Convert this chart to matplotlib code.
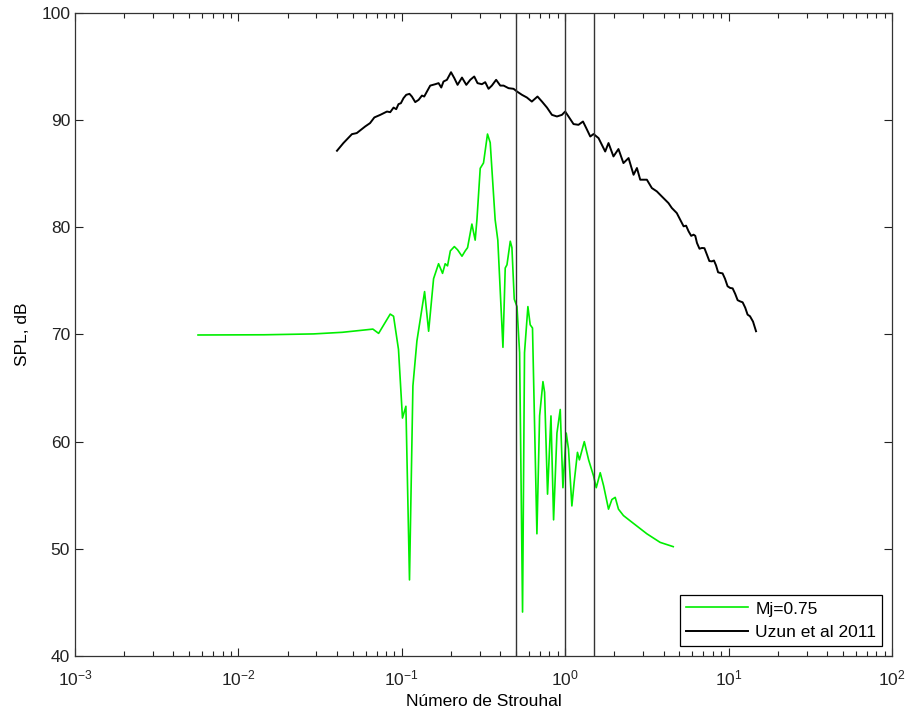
import numpy as np
import matplotlib.pyplot as plt
from matplotlib.ticker import LogLocator, FixedLocator, NullLocator

plt.rcParams['font.family'] = ['Liberation Sans', 'DejaVu Sans']
plt.rcParams['mathtext.default'] = 'regular'

## Mj=0.75 (simulation)
st_mj = [0.00566, 0.0144, 0.0288, 0.0432, 0.0577, 0.0665, 0.0721, 0.0849, 0.0890, 0.0954,
         0.1009, 0.1059, 0.1114, 0.1169, 0.1237, 0.1378, 0.1459, 0.1564, 0.1678, 0.1775,
         0.1842, 0.1904, 0.1981, 0.2096, 0.2193, 0.2334, 0.2444, 0.2525, 0.2684, 0.2811,
         0.2881, 0.3018, 0.3161, 0.3344, 0.3474, 0.3725, 0.3867, 0.4157, 0.4293, 0.4400,
         0.4610, 0.4718, 0.4875, 0.5067, 0.5257, 0.5480, 0.5634, 0.5909, 0.6104, 0.6305,
         0.6709, 0.6968, 0.7306, 0.7476, 0.7793, 0.8178, 0.8486, 0.8897, 0.9320, 0.9679,
         1.014, 1.047, 1.098, 1.134, 1.188, 1.221, 1.308, 1.390, 1.490, 1.548,
         1.637, 1.716, 1.840, 1.930, 2.022, 2.117, 2.271, 2.501, 3.159, 3.808, 4.58]
spl_mj = [69.95, 69.97, 70.05, 70.2, 70.4, 70.5, 70.1, 71.9, 71.7, 68.6,
          62.2, 63.3, 47.1, 65.2, 69.4, 74.0, 70.3, 75.2, 76.6, 75.7,
          76.6, 76.4, 77.8, 78.2, 77.9, 77.3, 77.8, 78.1, 80.3, 78.8,
          80.7, 85.5, 86.0, 88.7, 87.9, 80.7, 78.8, 68.8, 76.2, 76.5,
          78.7, 78.1, 73.3, 72.6, 68.3, 44.1, 68.3, 72.6, 70.9, 70.6,
          51.4, 62.4, 65.6, 64.6, 55.1, 62.4, 52.7, 60.8, 63.0, 55.7,
          60.8, 59.3, 54.0, 56.2, 59.0, 58.3, 60.0, 58.3, 56.8, 55.7,
          57.1, 55.9, 53.7, 54.6, 54.8, 53.7, 53.1, 52.6, 51.4, 50.6, 50.2]

## Uzun et al 2011
st_uzun = [0.0401, 0.0439, 0.0495, 0.0530, 0.0597, 0.0639, 0.0679, 0.0738, 0.0811, 0.0849,
           0.0890, 0.0924, 0.0954, 0.0987, 0.1024, 0.1064, 0.1114, 0.1152, 0.1208, 0.1267,
           0.1328, 0.1371, 0.1425, 0.1492, 0.1602, 0.1678, 0.1743, 0.1799, 0.1888, 0.2000,
           0.2096, 0.2193, 0.2334, 0.2481, 0.2623, 0.2774, 0.2905, 0.3090, 0.3238, 0.3393,
           0.3555, 0.3777, 0.4004, 0.4196, 0.4498, 0.4828, 0.5067, 0.5433, 0.5825, 0.6245,
           0.6764, 0.7205, 0.7732, 0.8291, 0.8897, 0.9544, 0.9992, 1.047, 1.124, 1.205,
           1.284, 1.345, 1.423, 1.490, 1.599, 1.756, 1.840, 1.973, 2.117, 2.271,
           2.441, 2.619, 2.746, 2.877, 3.159, 3.389, 3.635, 3.899, 4.282, 4.49,
           4.814, 5.302, 5.49, 5.688, 5.90, 6.102, 6.25, 6.399, 6.63, 6.865,
           7.11, 7.363, 7.62, 7.899, 8.13, 8.37, 8.62, 8.876, 9.18, 9.50,
           9.85, 10.21, 10.58, 10.96, 11.35, 11.74, 12.18, 12.63, 13.06, 13.51,
           14.1, 14.71]
spl_uzun = [87.14, 87.86, 88.69, 88.79, 89.41, 89.72, 90.25, 90.49, 90.80, 90.74,
            91.17, 91.02, 91.49, 91.58, 92.05, 92.36, 92.45, 92.20, 91.68, 91.89,
            92.29, 92.20, 92.67, 93.22, 93.35, 93.45, 93.04, 93.60, 93.76, 94.47,
            93.91, 93.29, 93.97, 93.29, 93.76, 94.07, 93.45, 93.35, 93.54, 92.92,
            93.22, 93.76, 93.22, 93.22, 92.98, 92.92, 92.67, 92.36, 92.11, 91.73,
            92.20, 91.73, 91.17, 90.49, 90.34, 90.49, 90.80, 90.34, 89.63, 89.56,
            89.87, 89.25, 88.47, 88.70, 88.32, 87.07, 87.86, 86.61, 87.30, 85.99,
            86.46, 84.90, 85.53, 84.44, 84.44, 83.66, 83.35, 82.88, 82.26, 81.80,
            81.33, 80.09, 80.15, 79.62, 79.2, 79.31, 79.2, 78.54, 78.0, 78.07,
            78.05, 77.45, 76.85, 76.82, 76.9, 76.45, 75.8, 75.74, 75.7, 75.2,
            74.5, 74.34, 74.3, 73.8, 73.2, 73.09, 73.0, 72.5, 71.85, 71.70,
            71.2, 70.30]

## vertical reference lines
st_lines = [0.5, 1.0, 1.5]

fig = plt.figure(figsize=(9.06, 7.11), dpi=100)
ax = fig.add_axes([0.0828, 0.0774, 0.9018, 0.9044])

ax.semilogx(st_mj, spl_mj, color='#00ee00', linewidth=1.2, label='Mj=0.75')
ax.semilogx(st_uzun, spl_uzun, color='black', linewidth=1.4, label='Uzun et al 2011')
for s in st_lines:
    ax.axvline(s, color='#333333', linewidth=1.0)

ax.set_xlim(1e-3, 1e2)
ax.set_ylim(40, 100)
ax.xaxis.set_major_locator(LogLocator(base=10, numticks=10))
ax.xaxis.set_minor_locator(LogLocator(base=10, subs=np.arange(2, 10), numticks=20))
ax.yaxis.set_major_locator(FixedLocator(np.arange(40, 101, 10)))
ax.yaxis.set_minor_locator(NullLocator())
ax.tick_params(which='both', direction='in', top=True, right=True, labelsize=12.5, colors='#222222')
ax.tick_params(which='major', length=6, width=0.8)
ax.tick_params(which='minor', length=3.5, width=0.8)
ax.tick_params(axis='x', which='major', pad=9)
for sp in ax.spines.values():
    sp.set_color('#333333')
    sp.set_linewidth(0.9)

ax.set_xlabel('Número de Strouhal', fontsize=12.5, labelpad=4)
ax.set_ylabel('SPL, dB', fontsize=12.5, labelpad=8)

leg = ax.legend(loc='lower right', fontsize=12.5, fancybox=False, framealpha=1,
                edgecolor='black', borderaxespad=0.55, handlelength=3.6,
                handletextpad=0.4, borderpad=0.35)
leg.get_frame().set_linewidth(0.9)

fig.savefig('out.png', dpi=100)
